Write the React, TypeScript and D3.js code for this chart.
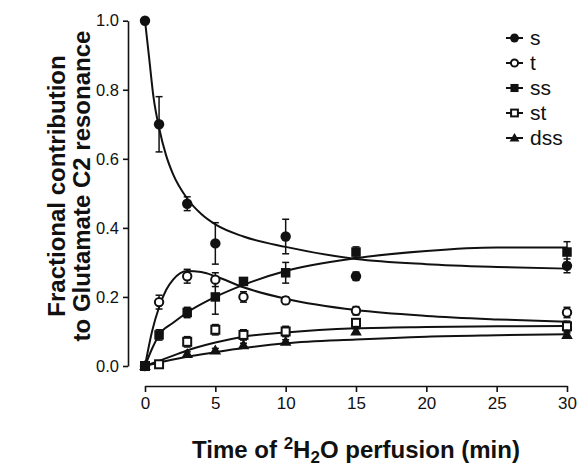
import React, { useEffect, useRef } from "react";
import * as d3 from "d3";

// measured points: [time (min), value, error]
const sPoints = [[0, 1.0, 0], [1, 0.7, 0.08], [3, 0.47, 0.02], [5, 0.355, 0.06], [10, 0.375, 0.05], [15, 0.26, 0.012], [30, 0.29, 0.02]];
const tPoints = [[0, 0, 0], [1, 0.185, 0.02], [3, 0.26, 0.02], [5, 0.25, 0.02], [7, 0.2, 0.015], [10, 0.19, 0.01], [15, 0.16, 0.012], [30, 0.155, 0.015]];
const ssPoints = [[0, 0, 0], [1, 0.09, 0.015], [3, 0.155, 0.015], [5, 0.2, 0.05], [7, 0.245, 0.01], [10, 0.27, 0.03], [15, 0.33, 0.015], [30, 0.33, 0.03]];
const stPoints = [[0, 0, 0], [1, 0.005, 0], [3, 0.07, 0.015], [5, 0.105, 0.015], [7, 0.09, 0.015], [10, 0.1, 0.015], [15, 0.125, 0.012], [30, 0.115, 0.015]];
const dssPoints = [[0, 0, 0], [3, 0.035, 0.006], [5, 0.045, 0.006], [7, 0.06, 0.006], [10, 0.07, 0.006], [15, 0.1, 0.008], [30, 0.09, 0.006]];

// fitted curves: [time, value]
const sFit = [[0, 1.0], [0.3, 0.89], [0.6, 0.78], [1, 0.69], [1.5, 0.61], [2, 0.555], [3, 0.485], [4, 0.44], [5, 0.41], [7, 0.375], [10, 0.345], [15, 0.31], [20, 0.295], [25, 0.287], [30, 0.282]];
const tFit = [[0, 0], [0.5, 0.1], [1, 0.17], [1.5, 0.22], [2, 0.25], [3, 0.275], [4, 0.272], [5, 0.26], [7, 0.228], [10, 0.195], [15, 0.162], [20, 0.145], [25, 0.135], [30, 0.128]];
const ssFit = [[0, 0], [0.5, 0.05], [1, 0.09], [2, 0.125], [3, 0.155], [5, 0.2], [7, 0.235], [10, 0.275], [15, 0.312], [20, 0.333], [25, 0.343], [30, 0.343]];
const stFit = [[0, 0], [1, 0.015], [2, 0.03], [3, 0.045], [5, 0.068], [7, 0.085], [10, 0.097], [15, 0.109], [20, 0.113], [25, 0.115], [30, 0.116]];
const dssFit = [[0, 0], [1, 0.01], [3, 0.027], [5, 0.04], [7, 0.052], [10, 0.066], [15, 0.077], [20, 0.085], [25, 0.089], [30, 0.092]];

const seriesNames = ["s", "t", "ss", "st", "dss"];
const xTicks = [0, 5, 10, 15, 20, 25, 30];
const yTicks = [0, 0.2, 0.4, 0.6, 0.8, 1.0];

const FONT = "'Liberation Sans', Arial, Helvetica, sans-serif";

const App = () => {
  const ref = useRef(null);

  useEffect(() => {
    draw();
  });

  const draw = () => {
    const svg = d3.select(ref.current);
    svg.selectAll("*").remove();

    const xScale = d3.scaleLinear().domain([0, 30]).range([145, 567]);
    const yScale = d3.scaleLinear().domain([0, 1]).range([366, 20.7]);

    // y axis
    const yAxis = svg
      .append("g")
      .attr("transform", "translate(128,0)")
      .call(d3.axisLeft(yScale).tickValues(yTicks).tickFormat(d3.format(".1f")).tickSize(5).tickSizeOuter(0).tickPadding(4));
    // x axis (detached below)
    const xAxis = svg
      .append("g")
      .attr("transform", "translate(0,386)")
      .call(d3.axisBottom(xScale).tickValues(xTicks).tickSize(6).tickSizeOuter(0).tickPadding(5));

    [yAxis, xAxis].forEach((ax) => {
      ax.selectAll("path, line").attr("stroke", "#111").attr("stroke-width", 1.6);
      ax.selectAll("text").attr("font-family", FONT).attr("font-size", 17).attr("fill", "#111");
    });
    yAxis.selectAll("text").attr("font-size", 16.5);

    const line = d3
      .line()
      .x((d) => xScale(d[0]))
      .y((d) => yScale(d[1]))
      .curve(d3.curveMonotoneX);

    [sFit, tFit, ssFit, stFit, dssFit].forEach((fit) => {
      svg.append("path").datum(fit).attr("fill", "none").attr("stroke", "#111").attr("stroke-width", 2).attr("d", line);
    });

    // error bars
    [sPoints, tPoints, ssPoints, stPoints, dssPoints].forEach((pts) => {
      pts.forEach((p) => {
        if (!p[2]) return;
        const x = xScale(p[0]);
        const y1 = yScale(p[1] + p[2]);
        const y2 = yScale(p[1] - p[2]);
        const g = svg.append("g").attr("stroke", "#111").attr("stroke-width", 1.5);
        g.append("line").attr("x1", x).attr("x2", x).attr("y1", y1).attr("y2", y2);
        g.append("line").attr("x1", x - 3.5).attr("x2", x + 3.5).attr("y1", y1).attr("y2", y1);
        g.append("line").attr("x1", x - 3.5).attr("x2", x + 3.5).attr("y1", y2).attr("y2", y2);
      });
    });

    const marker = (g, name, cx, cy, k) => {
      if (name === "s") {
        g.append("circle").attr("cx", cx).attr("cy", cy).attr("r", 5.2 * k).attr("fill", "#111");
      } else if (name === "t") {
        g.append("circle").attr("cx", cx).attr("cy", cy).attr("r", 4.2 * k).attr("fill", "#fff").attr("stroke", "#111").attr("stroke-width", 2);
      } else if (name === "ss") {
        const s = 9.5 * k;
        g.append("rect").attr("x", cx - s / 2).attr("y", cy - s / 2).attr("width", s).attr("height", s).attr("fill", "#111");
      } else if (name === "st") {
        const s = 8 * k;
        g.append("rect").attr("x", cx - s / 2).attr("y", cy - s / 2).attr("width", s).attr("height", s).attr("fill", "#fff").attr("stroke", "#111").attr("stroke-width", 2);
      } else {
        const h = 10 * k;
        g.append("path")
          .attr("d", `M${cx},${cy - h * 0.6}L${cx + h * 0.58},${cy + h * 0.4}L${cx - h * 0.58},${cy + h * 0.4}Z`)
          .attr("fill", "#111");
      }
    };

    const pointSets = { s: sPoints, t: tPoints, ss: ssPoints, st: stPoints, dss: dssPoints };
    ["st", "t", "dss", "ss", "s"].forEach((name) => {
      const g = svg.append("g");
      pointSets[name].forEach((p) => marker(g, name, xScale(p[0]), yScale(p[1]), 1));
    });

    // legend
    const legend = svg.append("g");
    seriesNames.forEach((name, i) => {
      const y = 38 + i * 25;
      legend.append("line").attr("x1", 506).attr("x2", 523).attr("y1", y).attr("y2", y).attr("stroke", "#111").attr("stroke-width", 2);
      marker(legend, name, 514.5, y, 0.85);
      legend
        .append("text")
        .attr("x", 530)
        .attr("y", y)
        .attr("dy", "0.35em")
        .attr("font-family", FONT)
        .attr("font-size", 21)
        .attr("fill", "#111")
        .text(name);
    });

    // axis titles
    const xTitle = svg
      .append("text")
      .attr("x", 356)
      .attr("y", 458)
      .attr("text-anchor", "middle")
      .attr("font-family", FONT)
      .attr("font-size", 24)
      .attr("font-weight", "bold")
      .attr("fill", "#111");
    xTitle.append("tspan").text("Time of ");
    xTitle.append("tspan").attr("dy", -9).attr("font-size", 17).text("2");
    xTitle.append("tspan").attr("dy", 9).text("H");
    xTitle.append("tspan").attr("dy", 5).attr("font-size", 17).text("2");
    xTitle.append("tspan").attr("dy", -5).text("O perfusion (min)");

    const yTitle = svg
      .append("g")
      .attr("transform", "translate(65,186) rotate(-90)")
      .attr("font-family", FONT)
      .attr("font-size", 24)
      .attr("font-weight", "bold")
      .attr("fill", "#111")
      .attr("text-anchor", "middle");
    yTitle.append("text").attr("x", 0).attr("y", 0).text("Fractional contribution");
    yTitle.append("text").attr("x", 0).attr("y", 25).text("to Glutamate C2 resonance");
  };

  return (
    <svg
      ref={ref}
      width={581}
      height={467}
      style={{ position: "absolute", left: 0, top: 0, background: "#fff" }}
    ></svg>
  );
};

export default App;
